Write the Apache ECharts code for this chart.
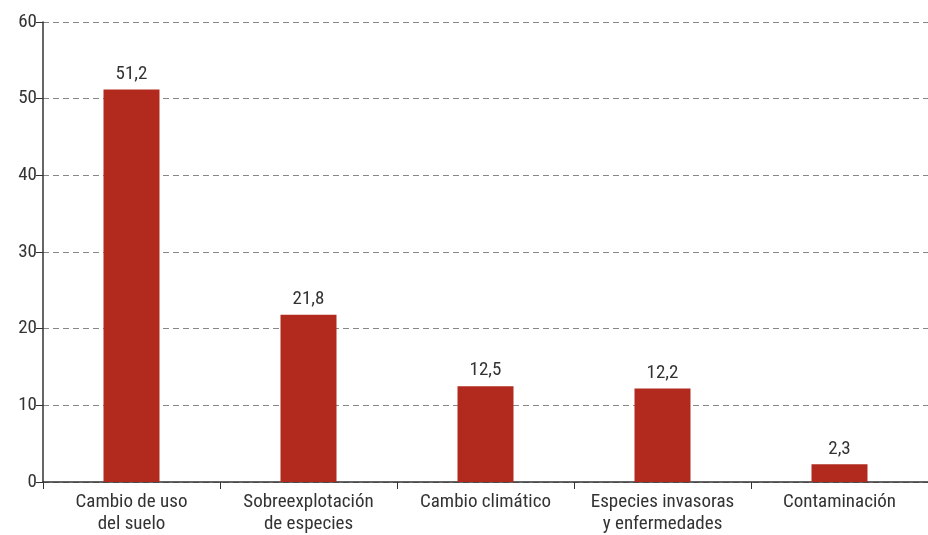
<!DOCTYPE html>
<html><head><meta charset="utf-8">
<script src="https://cdn.jsdelivr.net/npm/echarts@6/dist/echarts.min.js"></script>
<style>html,body{margin:0;padding:0;background:#fff;overflow:hidden}#c{width:928px;height:535px}</style>
</head><body><div id="c"></div>
<script>
const categories = ['Cambio de uso\ndel suelo','Sobreexplotación\nde especies','Cambio climático','Especies invasoras\ny enfermedades','Contaminación'];
const values = [51.2, 21.8, 12.5, 12.2, 2.3];
const yTicks = [0, 10, 20, 30, 40, 50, 60];
const FONT = '"Liberation Sans Narrow", "Roboto Condensed", Roboto, sans-serif';
const chart = echarts.init(document.getElementById('c'), null, {renderer:'canvas', width:928, height:535});
chart.setOption({
  animation:false,
  grid:{left:43,top:22,width:895,height:464,containLabel:false},
  xAxis:{type:'category',data:categories,
    axisLine:{lineStyle:{color:'#333',width:1.5}},
    axisTick:{show:true,length:7,lineStyle:{color:'#333'}},
    axisLabel:{color:'#333',fontFamily:FONT,fontSize:19,lineHeight:22,margin:9,interval:0}},
  yAxis:{type:'value',min:yTicks[0],max:yTicks[yTicks.length-1],interval:10,
    axisLine:{show:true,lineStyle:{color:'#333',width:1.5}},
    axisTick:{show:true,length:7,lineStyle:{color:'#333'}},
    axisLabel:{color:'#333',fontFamily:FONT,fontSize:19,margin:6},
    splitLine:{lineStyle:{color:'#888',type:[6,4],width:1}}},
  series:[{type:'bar',data:values,barWidth:56,itemStyle:{color:'#b22a1e'},
    label:{show:true,position:'top',distance:6,color:'#333',fontFamily:FONT,fontSize:19,
      formatter:p=>String(p.value).replace('.',',')}}]
});
</script></body></html>
